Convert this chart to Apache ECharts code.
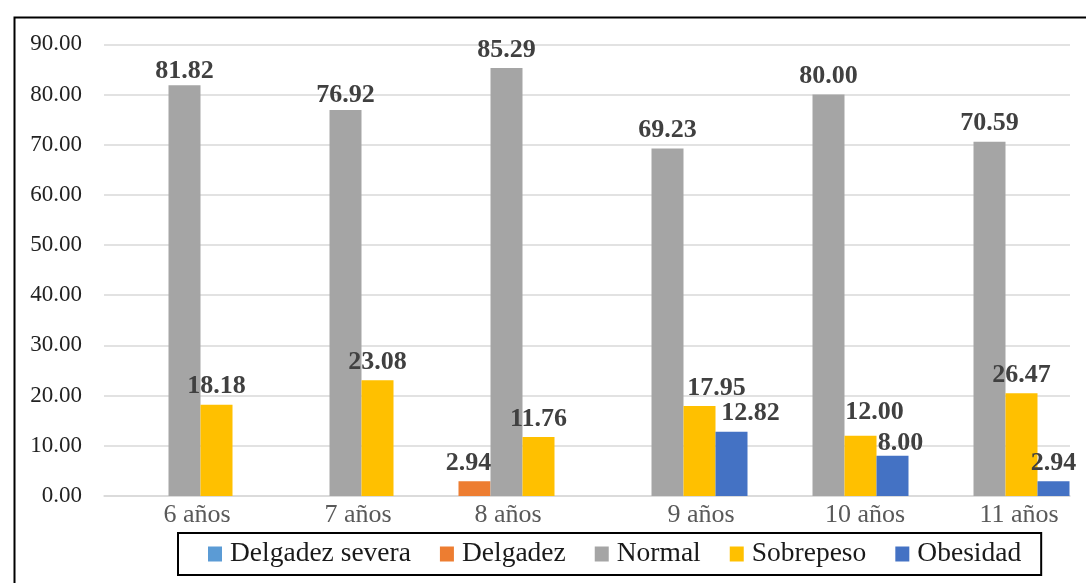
<!DOCTYPE html>
<html>
<head>
<meta charset="utf-8">
<script src="https://cdn.jsdelivr.net/npm/echarts@6/dist/echarts.min.js"></script>
<style>html,body{margin:0;padding:0;background:#fff;}#c{width:1086px;height:583px;}</style>
</head>
<body>
<div id="c"></div>
<script>
const categories = ['6 años', '7 años', '8 años', '9 años', '10 años', '11 años'];
const delgadezSevera = [0, 0, 0, 0, 0, 0];
const delgadez = [0, 0, 2.94, 0, 0, 0];
const normal = [81.82, 76.92, 85.29, 69.23, 80.00, 70.59];
const sobrepeso = [18.18, 23.08, 11.76, 17.95, 12.00, 20.47];
const sobrepesoLabelText = ['18.18', '23.08', '11.76', '17.95', '12.00', '26.47'];
const obesidad = [0, 0, 0, 12.82, 8.00, 2.94];
const yTicks = [0, 10, 20, 30, 40, 50, 60, 70, 80, 90];

const FONT = "'Liberation Serif', 'Times New Roman', serif";
const catPad = [25, 25, 3, 67, 73, 59];
const labelOffsets = {
  Normal: {0: [0, 4], 1: [0, 3]},
  Delgadez: {2: [-6, 0]},
  Sobrepeso: {3: [17, 0], 4: [14, -5]},
  Obesidad: {3: [19, 0], 4: [8, 5]}
};

function mk(name, vals, color, texts) {
  return {
    name: name, type: 'bar', barWidth: 32, barGap: '0%',
    itemStyle: {color: color},
    data: vals.map((v, i) => {
      const item = {value: v};
      const off = labelOffsets[name] && labelOffsets[name][i];
      if (off) item.label = {offset: off};
      return item;
    }),
    label: {
      show: true, position: 'top', distance: 5,
      fontFamily: FONT, fontSize: 26, fontWeight: 'bold', color: '#404040',
      formatter: p => (p.value ? (texts ? texts[p.dataIndex] : p.value.toFixed(2)) : '')
    }
  };
}

const rich = {};
catPad.forEach((p, i) => { rich['p' + i] = {padding: [0, 0, 0, p], fontFamily: FONT, fontSize: 26, color: '#595959'}; });

const chart = echarts.init(document.getElementById('c'));
chart.setOption({
  animation: false,
  backgroundColor: '#fff',
  graphic: [{type: 'rect', left: 12, top: 15, shape: {width: 1200, height: 700}, style: {fill: 'none', stroke: '#000', lineWidth: 2}, silent: true}],
  grid: {left: 104, right: 16, top: 44.3, bottom: 87},
  legend: {
    left: 178, top: 533,
    padding: [7, 20, 7, 30],
    borderColor: '#000', borderWidth: 2,
    itemWidth: 14, itemHeight: 15, itemGap: 29, icon: 'rect',
    textStyle: {fontFamily: FONT, fontSize: 27.5, color: '#1a1a1a', padding: [0, 0, 0, 3]},
    data: ['Delgadez severa', 'Delgadez', 'Normal', 'Sobrepeso', 'Obesidad']
  },
  xAxis: {
    type: 'category', data: categories,
    axisLine: {show: true, lineStyle: {color: '#d9d9d9', width: 1.5}},
    axisTick: {show: false},
    axisLabel: {interval: 0, margin: 6, formatter: (v, i) => '{p' + i + '|' + v + '}', rich: rich}
  },
  yAxis: {
    type: 'value', min: yTicks[0], max: yTicks[yTicks.length - 1], interval: 10,
    axisLine: {show: false}, axisTick: {show: false},
    splitLine: {lineStyle: {color: '#d9d9d9', width: 1.5}},
    axisLabel: {fontFamily: FONT, fontSize: 23, color: '#222', margin: 22, formatter: v => v.toFixed(2)}
  },
  series: [
    mk('Delgadez severa', delgadezSevera, '#5B9BD5'),
    mk('Delgadez', delgadez, '#ED7D31'),
    mk('Normal', normal, '#A5A5A5'),
    mk('Sobrepeso', sobrepeso, '#FFC000', sobrepesoLabelText),
    mk('Obesidad', obesidad, '#4472C4')
  ]
});
</script>
</body>
</html>
